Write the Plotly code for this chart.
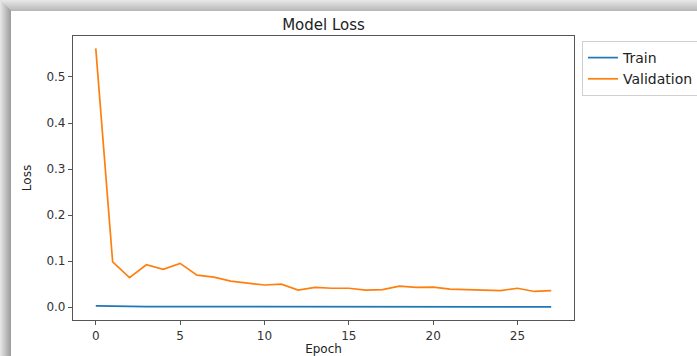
import plotly.graph_objects as go

epochs = list(range(28))
train_loss = [0.0025, 0.0016, 0.0014, 0.0012, 0.0011, 0.0011, 0.0010, 0.0010,
              0.0009, 0.0009, 0.0009, 0.0009, 0.0008, 0.0008, 0.0008, 0.0008,
              0.0008, 0.0007, 0.0007, 0.0007, 0.0007, 0.0007, 0.0007, 0.0006,
              0.0006, 0.0006, 0.0006, 0.0006]
val_loss = [0.562, 0.0985, 0.064, 0.092, 0.082, 0.095, 0.0696, 0.065,
            0.0565, 0.052, 0.048, 0.050, 0.037, 0.043, 0.041, 0.041,
            0.037, 0.038, 0.0456, 0.043, 0.0435, 0.039, 0.038, 0.037,
            0.036, 0.041, 0.034, 0.036]
x_ticks = [0, 5, 10, 15, 20, 25]
y_ticks = [0.0, 0.1, 0.2, 0.3, 0.4, 0.5]

W, H = 697, 356
L, R, T, B = 73, 123, 36, 36
pw, ph = W - L - R, H - T - B

def px(x):  # pixel -> paper coordinate
    return (x - L) / pw

def py(y):
    return (H - B - y) / ph

fig = go.Figure()
fig.add_trace(go.Scatter(x=epochs, y=train_loss, mode="lines", name="Train",
                         line=dict(color="#1f77b4", width=1.7)))
fig.add_trace(go.Scatter(x=epochs, y=val_loss, mode="lines", name="Validation",
                         line=dict(color="#ff7f0e", width=1.7)))

shapes = []
# screenshot shadow frame (top and left)
for i in range(11):
    g = int(230 - i * 4.5)
    shapes.append(dict(type="rect", xref="paper", yref="paper",
                       x0=px(0), x1=px(W), y0=py(i + 1), y1=py(i),
                       fillcolor=f"rgb({g},{g},{g})", line=dict(width=0)))
for i in range(11):
    g = int(228 - i * 7)
    shapes.append(dict(type="rect", xref="paper", yref="paper",
                       x0=px(i), x1=px(i + 1), y0=py(H), y1=py(i),
                       fillcolor=f"rgb({g},{g},{g})", line=dict(width=0)))

axis_common = dict(showgrid=False, zeroline=False, showline=True, mirror=True,
                   automargin=False,
                   linecolor="#555555", linewidth=1.2, ticks="outside",
                   ticklen=4, tickcolor="#555555", tickwidth=1,
                   tickfont=dict(family="DejaVu Sans", size=12, color="#333333"))

fig.update_layout(
    width=W, height=H, autosize=False,
    margin=dict(l=L, r=R, t=T, b=B, pad=0, autoexpand=False),
    paper_bgcolor="white", plot_bgcolor="white",
    title=dict(text="Model Loss", xref="paper", x=0.5, xanchor="center",
               yref="container", y=1 - 24.5 / H, yanchor="middle",
               font=dict(family="DejaVu Sans", size=15, color="#222222")),
    xaxis=dict(range=[-1.35, 28.35], tickvals=x_ticks,
               title=dict(text="Epoch", standoff=2,
                          font=dict(family="DejaVu Sans", size=12, color="#222222")),
               **axis_common),
    yaxis=dict(range=[-0.028, 0.589], tickvals=y_ticks, tickformat=".1f",
               title=dict(text="Loss", standoff=12,
                          font=dict(family="DejaVu Sans", size=12, color="#222222")),
               **axis_common),
    legend=dict(xref="container", yref="container",
                x=582 / W, y=1 - 41 / H, xanchor="left", yanchor="top",
                bgcolor="white", bordercolor="#d0d0d0", borderwidth=1,
                font=dict(family="DejaVu Sans", size=14, color="#222222"),
                tracegroupgap=0, itemwidth=30),
    shapes=shapes,
    showlegend=True,
)

fig.write_html("out.html",
               config={"responsive": False, "displayModeBar": False},
               default_width=f"{W}px", default_height=f"{H}px",
               post_script="document.body.style.margin='0';document.body.style.overflow='hidden';")
